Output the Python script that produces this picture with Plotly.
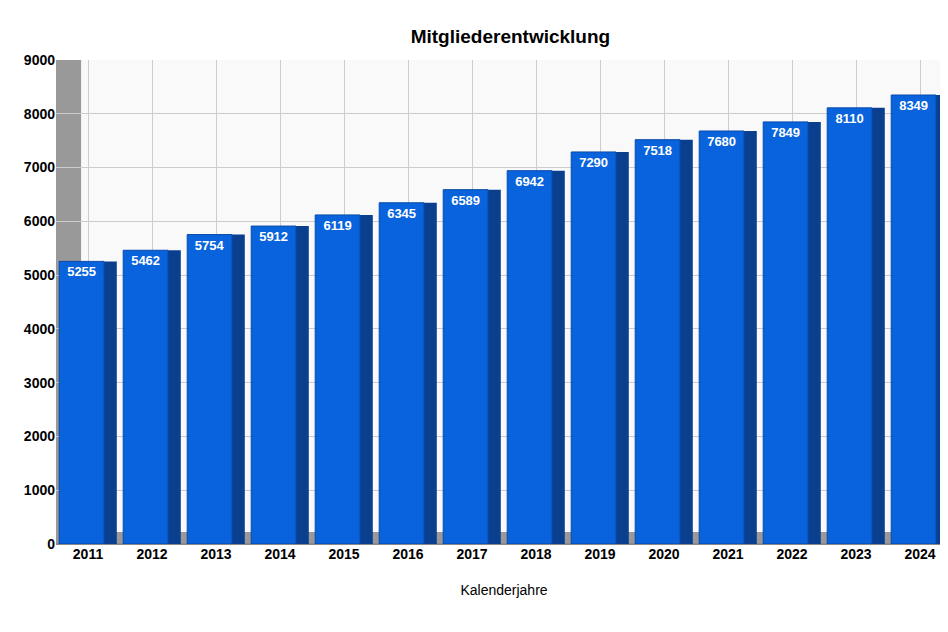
import plotly.graph_objects as go

years = ["2011", "2012", "2013", "2014", "2015", "2016", "2017",
         "2018", "2019", "2020", "2021", "2022", "2023", "2024"]
members = [5255, 5462, 5754, 5912, 6119, 6345, 6589,
           6942, 7290, 7518, 7680, 7849, 8110, 8349]

fig = go.Figure()

# dark side face for a 3D look
fig.add_trace(go.Bar(
    x=years, y=members, width=0.2, offset=0.25,
    marker=dict(color="#0a3f8f", line=dict(width=0)),
    hoverinfo="skip", showlegend=False,
))
# front face
fig.add_trace(go.Bar(
    x=years, y=members, width=0.7, offset=-0.45,
    marker=dict(color="#0863dc", line=dict(color="#0a4aa8", width=1)),
    text=[str(v) for v in members], textposition="inside",
    insidetextanchor="end", textangle=0,
    textfont=dict(color="white", size=13, family="Arial", weight="bold"),
    showlegend=False,
))

fig.update_layout(
    width=948, height=632,
    title=dict(text="<b>Mitgliederentwicklung</b>", x=0.53, y=0.965,
               font=dict(family="Arial", size=19, color="black")),
    font=dict(family="Arial", color="black"),
    paper_bgcolor="white", plot_bgcolor="#f9f9f9",
    margin=dict(l=48, r=4, t=52, b=96),
    barmode="overlay",
    xaxis=dict(title=dict(text="Kalenderjahre", font=dict(size=14), standoff=24),
               tickfont=dict(size=14, family="Arial", weight="bold"),
               showgrid=True, gridcolor="#cccccc", ticks=""),
    yaxis=dict(range=[0, 9000], dtick=1000, gridcolor="#cccccc",
               tickfont=dict(size=14, family="Arial", weight="bold"),
               zeroline=True, zerolinecolor="#888888", zerolinewidth=2),
    shapes=[
        dict(type="rect", xref="paper", yref="paper", x0=0, x1=0.028, y0=0, y1=1,
             fillcolor="#999999", line=dict(width=0), layer="below"),
        dict(type="rect", xref="paper", yref="paper", x0=0, x1=1, y0=0, y1=0.025,
             fillcolor="#999999", line=dict(width=0), layer="below"),
    ],
)

fig.write_html("out.html")
